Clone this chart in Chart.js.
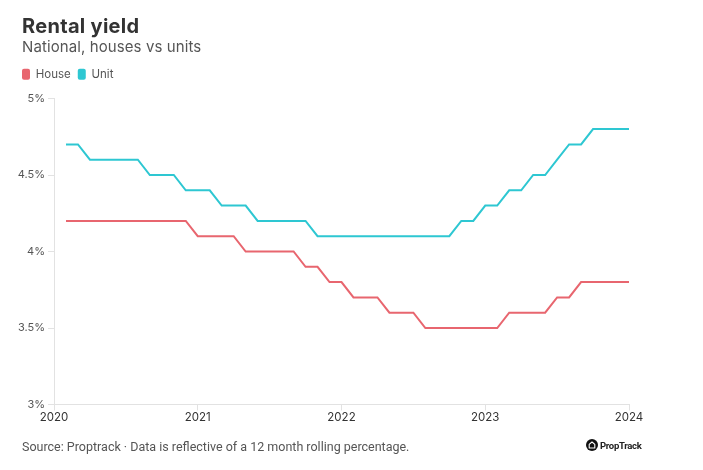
<!DOCTYPE html>
<html>
<head>
<meta charset="utf-8">
<script src="https://cdn.jsdelivr.net/npm/chart.js@4"></script>
<style>
  html, body { margin: 0; padding: 0; background: #fff; }
  #wrap { position: relative; width: 703px; height: 470px; overflow: hidden; }
  #c { position: absolute; left: 0; top: 0; }
  .txt { position: absolute; white-space: nowrap; pointer-events: none; }
  #title { left: 22px; top: 16px; font: 700 20px/20px Inter, sans-serif; color: #333; letter-spacing: 0.3px; }
  #subtitle { left: 22px; top: 39px; font: 400 15px/15px Inter, sans-serif; color: #555; letter-spacing: 0.1px; }
  #footer { left: 22px; top: 440px; font: 400 12.5px/13px Roboto, sans-serif; color: #555; }
  #logo { left: 586px; top: 440px; font: 700 9.5px/12px Roboto, sans-serif; color: #222; letter-spacing: -0.3px; }
  #logo svg { vertical-align: middle; margin-right: 2px; position: relative; top: -1px; }
</style>
</head>
<body>
<div id="wrap">
  <canvas id="c" width="703" height="470"></canvas>
  <div class="txt" id="title">Rental yield</div>
  <div class="txt" id="subtitle">National, houses vs units</div>
  <div class="txt" id="footer">Source: Proptrack · Data is reflective of a 12 month rolling percentage.</div>
  <div class="txt" id="logo"><svg width="12" height="12" viewBox="0 0 12 12"><circle cx="6" cy="6" r="6" fill="#111"/><path d="M3.2 9 V5.4 L6 3 L8.8 5.4 V9 Z" fill="none" stroke="#fff" stroke-width="1.1" stroke-linejoin="round"/></svg>PropTrack</div>
</div>
<script>
const months = [
  '2020-02','2020-03','2020-04','2020-05','2020-06','2020-07','2020-08','2020-09','2020-10','2020-11','2020-12',
  '2021-01','2021-02','2021-03','2021-04','2021-05','2021-06','2021-07','2021-08','2021-09','2021-10','2021-11','2021-12',
  '2022-01','2022-02','2022-03','2022-04','2022-05','2022-06','2022-07','2022-08','2022-09','2022-10','2022-11','2022-12',
  '2023-01','2023-02','2023-03','2023-04','2023-05','2023-06','2023-07','2023-08','2023-09','2023-10','2023-11','2023-12',
  '2024-01'
];
const house = [
  4.2,4.2,4.2,4.2,4.2,4.2,4.2,4.2,4.2,4.2,4.2,
  4.1,4.1,4.1,4.1,
  4.0,4.0,4.0,4.0,4.0,
  3.9,3.9,
  3.8,3.8,
  3.7,3.7,3.7,
  3.6,3.6,3.6,
  3.5,3.5,3.5,3.5,3.5,3.5,3.5,
  3.6,3.6,3.6,3.6,
  3.7,3.7,
  3.8,3.8,3.8,3.8,3.8
];
const unit = [
  4.7,4.7,
  4.6,4.6,4.6,4.6,4.6,
  4.5,4.5,4.5,
  4.4,4.4,4.4,
  4.3,4.3,4.3,
  4.2,4.2,4.2,4.2,4.2,
  4.1,4.1,4.1,4.1,4.1,4.1,4.1,4.1,4.1,4.1,4.1,4.1,
  4.2,4.2,
  4.3,4.3,
  4.4,4.4,
  4.5,4.5,
  4.6,
  4.7,4.7,
  4.8,4.8,4.8,4.8
];
const yearTicks = ['2020','2021','2022','2023','2024'];
const yTickLabels = ['3%','3.5%','4%','4.5%','5%'];

const baseYear = 2020;
function monthIndex(s) {
  const [y, m] = s.split('-').map(Number);
  return (y - baseYear) * 12 + (m - 1);
}
const houseColor = '#e8666f';
const unitColor = '#2ec7d2';

const legendGap = {
  id: 'legendGap',
  beforeInit(chart) {
    const orig = chart.legend.fit;
    chart.legend.fit = function () { orig.call(this); this.height += 8.5; };
  }
};

new Chart(document.getElementById('c'), {
  type: 'line',
  data: {
    datasets: [
      { label: 'House', data: months.map((m, i) => ({ x: monthIndex(m), y: house[i] })),
        borderColor: houseColor, backgroundColor: houseColor, borderWidth: 2, pointRadius: 0, tension: 0 },
      { label: 'Unit', data: months.map((m, i) => ({ x: monthIndex(m), y: unit[i] })),
        borderColor: unitColor, backgroundColor: unitColor, borderWidth: 2, pointRadius: 0, tension: 0 }
    ]
  },
  options: {
    responsive: false,
    devicePixelRatio: 1,
    animation: false,
    layout: { padding: { left: 15, right: 74, top: 61.5, bottom: 35.5 } },
    plugins: {
      tooltip: { enabled: false },
      legend: {
        position: 'top', align: 'start',
        labels: {
          boxWidth: 8, boxHeight: 11, useBorderRadius: true, borderRadius: 2, padding: 7,
          color: '#555', font: { family: 'Inter', size: 11.5 },
          generateLabels(chart) {
            const items = Chart.defaults.plugins.legend.labels.generateLabels(chart);
            items.forEach(it => { it.lineWidth = 0; it.strokeStyle = it.fillStyle; });
            return items;
          }
        }
      }
    },
    scales: {
      x: {
        type: 'linear', min: 0, max: 48,
        afterFit(s) { s.height = 30; },
        grid: { drawOnChartArea: false, drawTicks: true, tickLength: 6, color: '#e2e2e2' },
        border: { display: true, color: '#e2e2e2' },
        ticks: { stepSize: 12, padding: 0, color: '#333', font: { family: 'Inter', size: 11.5 },
          maxRotation: 0, callback: v => yearTicks[v / 12] }
      },
      y: {
        min: 3, max: 5,
        afterFit(s) { s.width = 39; },
        grid: { drawOnChartArea: false, drawTicks: true, tickLength: 6, color: '#e2e2e2' },
        border: { display: true, color: '#e2e2e2' },
        ticks: { stepSize: 0.5, padding: 3, color: '#555', font: { family: 'Inter', size: 11 },
          callback: v => yTickLabels[Math.round((v - 3) / 0.5)] }
      }
    }
  },
  plugins: [legendGap]
});
</script>
</body>
</html>
